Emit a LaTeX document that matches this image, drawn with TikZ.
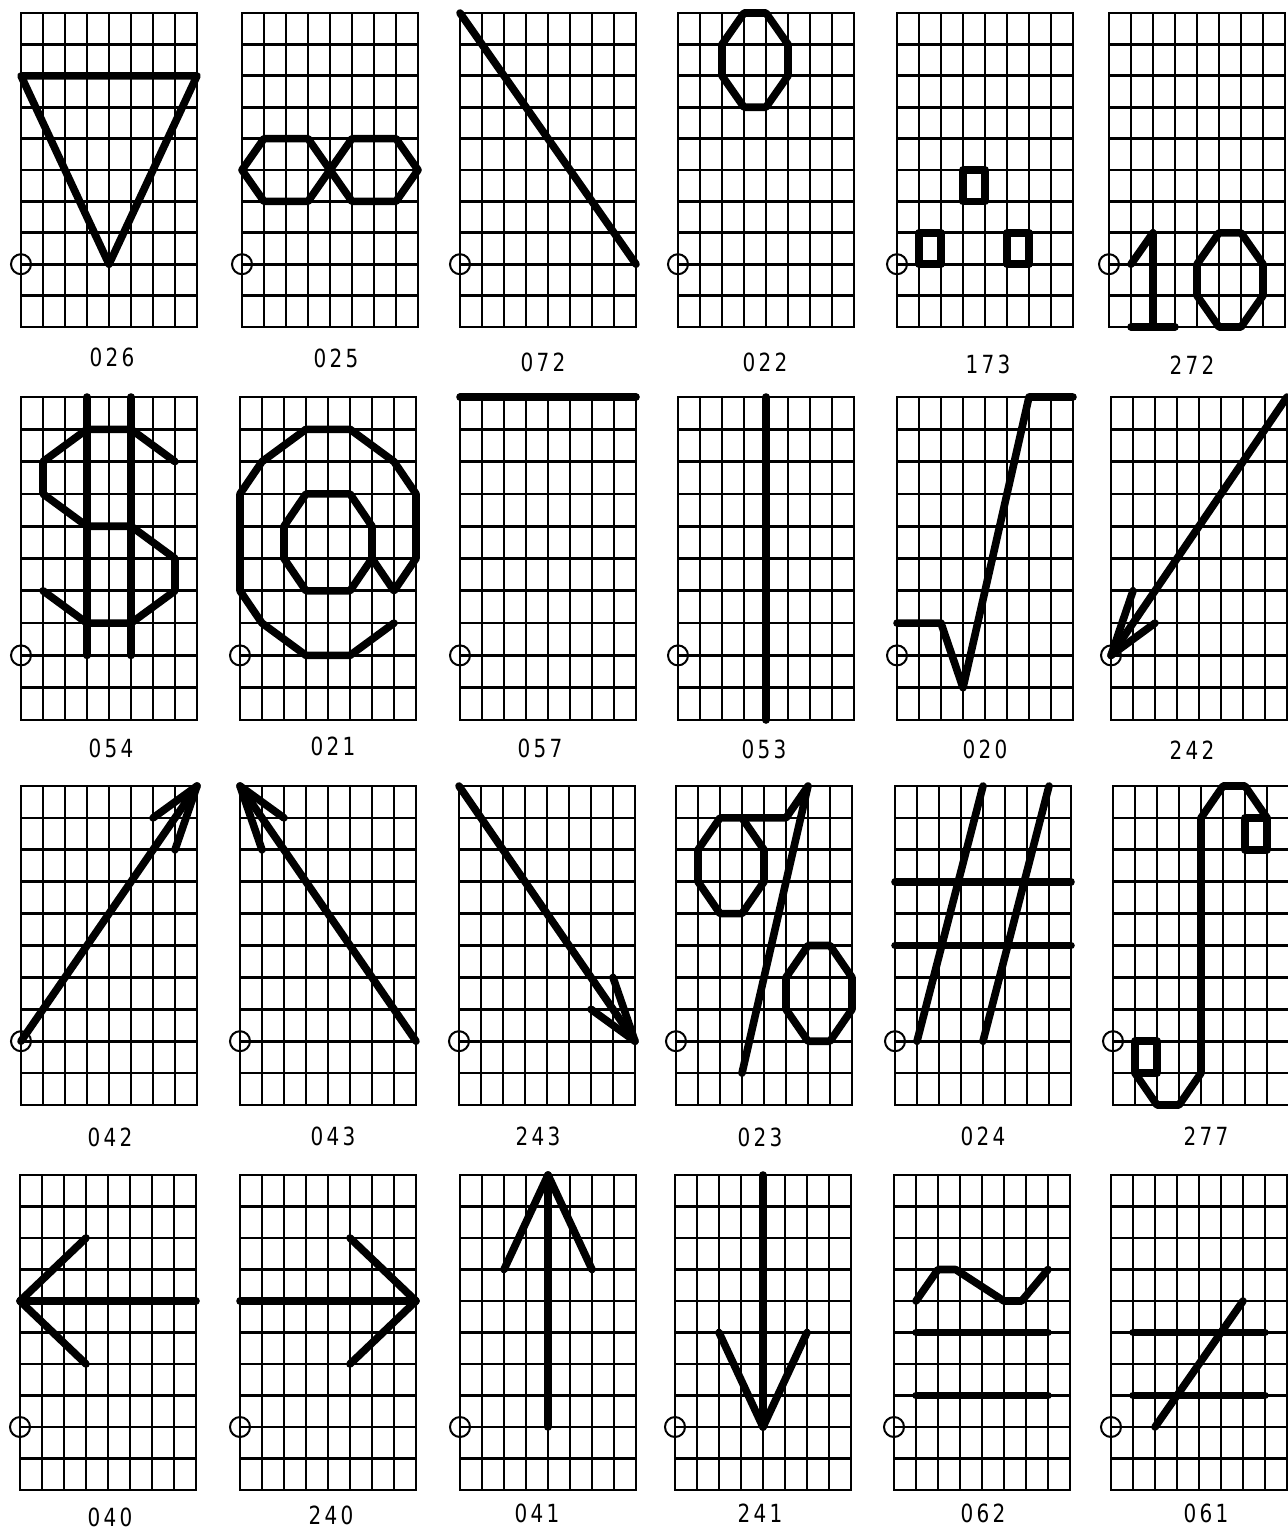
\documentclass[tikz,border=0pt]{standalone}
\usepackage{fontspec}
\newfontfamily\labfont{DejaVu Sans}
\tikzset{
  gridline/.style={line width=2.7pt, line cap=rect},
  sym/.style={line width=7.6pt, line cap=round, line join=round},
  orig/.style={line width=2pt},
  lab/.style={font=\labfont\fontsize{25}{25}\selectfont, inner sep=0pt},
}
\newcommand\digs[3]{\scalebox{0.8}[1]{#1\kern4pt#2\kern4pt#3}}
% #1 left, #2 top, #3 bottom, #4 content
\newcommand\gpanel[4]{%
  \pgfmathsetmacro\uy{(#3-#2)/10}%
  \pgfmathsetmacro\oy{-#3+2*\uy}%
  \begin{scope}[shift={(#1pt,\oy pt)}, x=22pt, y=\uy pt]
    \foreach \i in {0,...,8} \draw[gridline] (\i,-2) -- (\i,8);
    \foreach \j in {-2,...,8} \draw[gridline] (0,\j) -- (8,\j);
    \draw[orig] (0,0) circle (10pt);
    #4
  \end{scope}}
\begin{document}
\begin{tikzpicture}
\useasboundingbox (0,0) rectangle (1288pt,-1532pt);
% ---------- row 1 ----------
\gpanel{21}{13}{327}{\draw[sym] (0,6) -- (8,6) -- (4,0) -- cycle;}
\gpanel{242}{13}{327}{%
  \draw[sym] (0,3)--(1,4)--(3,4)--(4,3)--(3,2)--(1,2)--cycle;
  \draw[sym] (4,3)--(5,4)--(7,4)--(8,3)--(7,2)--(5,2)--cycle;}
\gpanel{460}{13}{327}{\draw[sym] (0,8)--(8,0);}
\gpanel{678}{13}{327}{\draw[sym] (3,8)--(4,8)--(5,7)--(5,6)--(4,5)--(3,5)--(2,6)--(2,7)--cycle;}
\gpanel{897}{13}{327}{%
  \draw[sym] (1,0) rectangle (2,1);
  \draw[sym] (5,0) rectangle (6,1);
  \draw[sym] (3,2) rectangle (4,3);}
\gpanel{1109}{13}{327}{%
  \draw[sym] (1,0)--(2,1)--(2,-2);
  \draw[sym] (1,-2)--(3,-2);
  \draw[sym] (5,1)--(6,1)--(7,0)--(7,-1)--(6,-2)--(5,-2)--(4,-1)--(4,0)--cycle;}
\node[lab] (l026) at (112pt,-357pt) {\digs026};
\node[lab] (l025) at (336pt,-358pt) {\digs025};
\node[lab] (l072) at (543pt,-362pt) {\digs072};
\node[lab] (l022) at (765pt,-362pt) {\digs022};
\node[lab] (l173) at (988pt,-364pt) {\digs173};
\node[lab] (l272) at (1192pt,-365pt) {\digs272};
% ---------- row 2 ----------
\gpanel{21}{397}{720}{%
  \draw[sym] (3,8)--(3,0);
  \draw[sym] (5,8)--(5,0);
  \draw[sym] (7,6)--(5,7)--(3,7)--(1,6)--(1,5)--(3,4)--(5,4)--(7,3)--(7,2)--(5,1)--(3,1)--(1,2);}
\gpanel{240}{397}{720}{%
  \draw[sym] (3,5)--(5,5)--(6,4)--(6,3)--(5,2)--(3,2)--(2,3)--(2,4)--cycle;
  \draw[sym] (6,3)--(7,2)--(8,3)--(8,5)--(7,6)--(5,7)--(3,7)--(1,6)--(0,5)--(0,2)--(1,1)--(3,0)--(5,0)--(7,1);}
\gpanel{460}{397}{720}{\draw[sym] (0,8)--(8,8);}
\gpanel{678}{397}{720}{\draw[sym] (4,8)--(4,-2);}
\gpanel{897}{397}{720}{\draw[sym] (0,1)--(2,1)--(3,-1)--(6,8)--(8,8);}
\gpanel{1111}{397}{720}{%
  \draw[sym] (8,8)--(0,0);
  \draw[sym] (2,1)--(0,0)--(1,2);}
\node[lab] (l054) at (111pt,-748pt) {\digs054};
\node[lab] (l021) at (333pt,-746pt) {\digs021};
\node[lab] (l057) at (540pt,-748pt) {\digs057};
\node[lab] (l053) at (764pt,-749pt) {\digs053};
\node[lab] (l020) at (985pt,-749pt) {\digs020};
\node[lab] (l242) at (1192pt,-750pt) {\digs242};
% ---------- row 3 ----------
\gpanel{21}{786}{1105}{%
  \draw[sym] (0,0)--(8,8);
  \draw[sym] (6,7)--(8,8)--(7,6);}
\gpanel{240}{786}{1105}{%
  \draw[sym] (8,0)--(0,8);
  \draw[sym] (2,7)--(0,8)--(1,6);}
\gpanel{459}{786}{1105}{%
  \draw[sym] (0,8)--(8,0);
  \draw[sym] (6,1)--(8,0)--(7,2);}
\gpanel{676}{786}{1105}{%
  \draw[sym] (2,7)--(3,7)--(4,6)--(4,5)--(3,4)--(2,4)--(1,5)--(1,6)--cycle;
  \draw[sym] (3,7)--(5,7)--(6,8)--(3,-1);
  \draw[sym] (6,3)--(7,3)--(8,2)--(8,1)--(7,0)--(6,0)--(5,1)--(5,2)--cycle;}
\gpanel{895}{786}{1105}{%
  \draw[sym] (0,5)--(8,5);
  \draw[sym] (0,3)--(8,3);
  \draw[sym] (1,0)--(4,8);
  \draw[sym] (4,0)--(7,8);}
\gpanel{1113}{786}{1105}{%
  \draw[sym] (1,-1)--(2,-2)--(3,-2)--(4,-1)--(4,7)--(5,8)--(6,8)--(7,7);
  \draw[sym] (6,6) rectangle (7,7);
  \draw[sym] (1,-1) rectangle (2,0);}
\node[lab] (l042) at (110pt,-1137pt) {\digs042};
\node[lab] (l043) at (333pt,-1136pt) {\digs043};
\node[lab] (l243) at (538pt,-1136pt) {\digs243};
\node[lab] (l023) at (760pt,-1137pt) {\digs023};
\node[lab] (l024) at (983pt,-1136pt) {\digs024};
\node[lab] (l277) at (1206pt,-1136pt) {\digs277};
% ---------- row 4 ----------
\gpanel{20}{1175}{1490}{%
  \draw[sym] (8,4)--(0,4);
  \draw[sym] (3,6)--(0,4)--(3,2);}
\gpanel{240}{1175}{1490}{%
  \draw[sym] (0,4)--(8,4);
  \draw[sym] (5,6)--(8,4)--(5,2);}
\gpanel{460}{1175}{1490}{%
  \draw[sym] (4,0)--(4,8);
  \draw[sym] (2,5)--(4,8)--(6,5);}
\gpanel{675}{1175}{1490}{%
  \draw[sym] (4,8)--(4,0);
  \draw[sym] (2,3)--(4,0)--(6,3);}
\gpanel{894}{1175}{1490}{%
  \draw[sym] (1,4)--(2,5)--(2.8,5)--(5,4)--(5.8,4)--(7,5);
  \draw[sym] (1,3)--(7,3);
  \draw[sym] (1,1)--(7,1);}
\gpanel{1111}{1175}{1490}{%
  \draw[sym] (1,3)--(7,3);
  \draw[sym] (1,1)--(7,1);
  \draw[sym] (2,0)--(6,4);}
\node[lab] (l040) at (110pt,-1517pt) {\digs040};
\node[lab] (l240) at (331pt,-1515pt) {\digs240};
\node[lab] (l041) at (537pt,-1513pt) {\digs041};
\node[lab] (l241) at (760pt,-1513pt) {\digs241};
\node[lab] (l062) at (983pt,-1513pt) {\digs062};
\node[lab] (l061) at (1206pt,-1513pt) {\digs061};
\end{tikzpicture}
\end{document}
